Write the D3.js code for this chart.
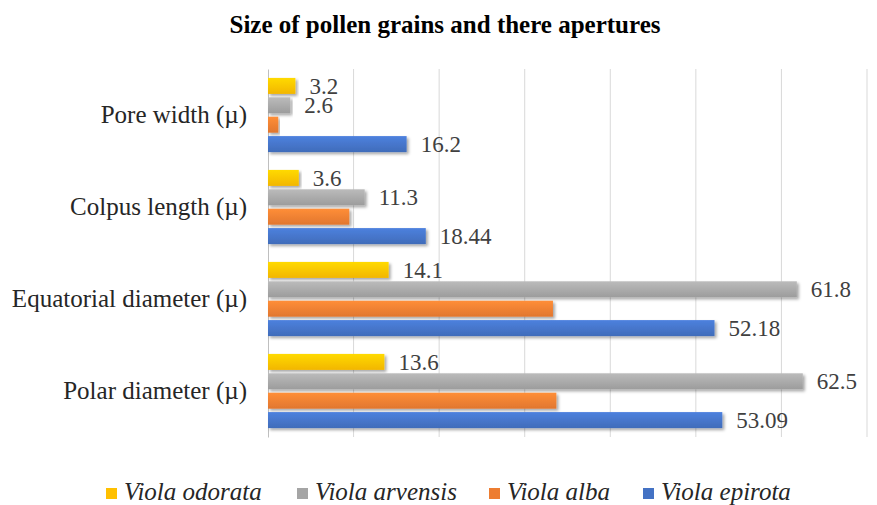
<!DOCTYPE html>
<html>
<head>
<meta charset="utf-8">
<script src="https://cdn.jsdelivr.net/npm/d3@7"></script>
<style>
  body { margin: 0; background: #fff; }
  svg { display: block; }
  svg text { font-family: "Liberation Serif", "DejaVu Serif", serif; }
</style>
</head>
<body>
<div id="chart"></div>
<script>
const categories = ["Pore width (µ)", "Colpus length (µ)", "Equatorial diameter (µ)", "Polar diameter (µ)"];
const seriesNames = ["Viola odorata", "Viola arvensis", "Viola alba", "Viola epirota"];
const odorata = [3.2, 3.6, 14.1, 13.6];
const arvensis = [2.6, 11.3, 61.8, 62.5];
const alba = [1.2, 9.5, 33.3, 33.7];
const epirota = [16.2, 18.44, 52.18, 53.09];
// alba has no data labels in the original
const showLabels = [true, true, false, true];
const xTicks = [0, 10, 20, 30, 40, 50, 60, 70];
const colors = ["#ffc000", "#a5a5a5", "#ed7d31", "#4472c4"];

const seriesValues = [odorata, arvensis, alba, epirota];
const width = 877, height = 505;
const plot = { left: 268, right: 867, top: 69, bottom: 437 };
const serif = "'Liberation Serif', 'DejaVu Serif', serif";

const svg = d3.select("#chart").append("svg")
  .attr("width", width)
  .attr("height", height);

/* gradients + shadow to mimic the office style bars */
const defs = svg.append("defs");
colors.forEach((c, i) => {
  const g = defs.append("linearGradient")
    .attr("id", "grad-" + i)
    .attr("x1", 0).attr("y1", 0).attr("x2", 0).attr("y2", 1);
  g.append("stop").attr("offset", "0%").attr("stop-color", d3.color(c).brighter(0.35));
  g.append("stop").attr("offset", "100%").attr("stop-color", d3.color(c).darker(0.15));
});
defs.append("filter").attr("id", "shadow")
  .attr("x", "-5%").attr("y", "-30%").attr("width", "115%").attr("height", "180%")
  .append("feDropShadow")
  .attr("dx", 2).attr("dy", 2).attr("stdDeviation", 1.5)
  .attr("flood-color", "#000").attr("flood-opacity", 0.35);

svg.append("text")
  .attr("x", 445)
  .attr("y", 33)
  .attr("text-anchor", "middle")
  .style("font-family", serif)
  .style("font-size", "25px")
  .style("font-weight", "bold")
  .text("Size of pollen grains and there apertures");

const x = d3.scaleLinear().domain([0, 70]).range([plot.left, plot.right]);
const y = d3.scaleBand().domain(categories).range([plot.top, plot.bottom]).padding(0);
const ySub = d3.scaleBand().domain(seriesNames).range([0, y.bandwidth()])
  .paddingInner(0.175).paddingOuter(0.46);

/* vertical gridlines */
svg.append("g")
  .selectAll("line")
  .data(xTicks.slice(1))
  .enter()
  .append("line")
  .attr("x1", (d) => x(d)).attr("x2", (d) => x(d))
  .attr("y1", plot.top).attr("y2", plot.bottom)
  .attr("stroke", "#d9d9d9")
  .attr("stroke-width", 1);

/* category axis */
svg.append("g")
  .attr("transform", `translate(${plot.left},0)`)
  .call(d3.axisLeft(y).tickSize(0).tickPadding(21))
  .call((g) => g.select(".domain").attr("stroke", "#bfbfbf"))
  .selectAll("text")
  .style("font-family", serif)
  .style("font-size", "25px")
  .attr("fill", "#262626");

/* bars */
seriesNames.forEach((name, si) => {
  const data = categories.map((c, ci) => ({ cat: c, value: seriesValues[si][ci] }));
  const wrapper = svg.append("g");
  wrapper.selectAll("rect")
    .data(data)
    .enter()
    .append("rect")
    .attr("x", x(0))
    .attr("y", (d) => y(d.cat) + ySub(name))
    .attr("width", (d) => x(d.value) - x(0))
    .attr("height", ySub.bandwidth())
    .attr("fill", `url(#grad-${si})`)
    .attr("filter", "url(#shadow)");

  if (showLabels[si]) {
    wrapper.selectAll("text")
      .data(data)
      .enter()
      .append("text")
      .attr("x", (d) => x(d.value) + 14)
      .attr("y", (d) => y(d.cat) + ySub(name) + ySub.bandwidth() / 2)
      .attr("dy", "0.35em")
      .style("font-family", serif)
      .style("font-size", "23px")
      .attr("fill", "#404040")
      .text((d) => d.value);
  }
});

/* legend */
const legendX = [106, 297, 489, 643];
const legend = svg.append("g");
seriesNames.forEach((name, i) => {
  legend.append("rect")
    .attr("x", legendX[i])
    .attr("y", 488)
    .attr("width", 11)
    .attr("height", 11)
    .attr("fill", colors[i]);
  legend.append("text")
    .attr("x", legendX[i] + 18)
    .attr("y", 500)
    .style("font-family", serif)
    .style("font-size", "25px")
    .style("font-style", "italic")
    .attr("fill", "#262626")
    .text(name);
});
</script>
</body>
</html>
